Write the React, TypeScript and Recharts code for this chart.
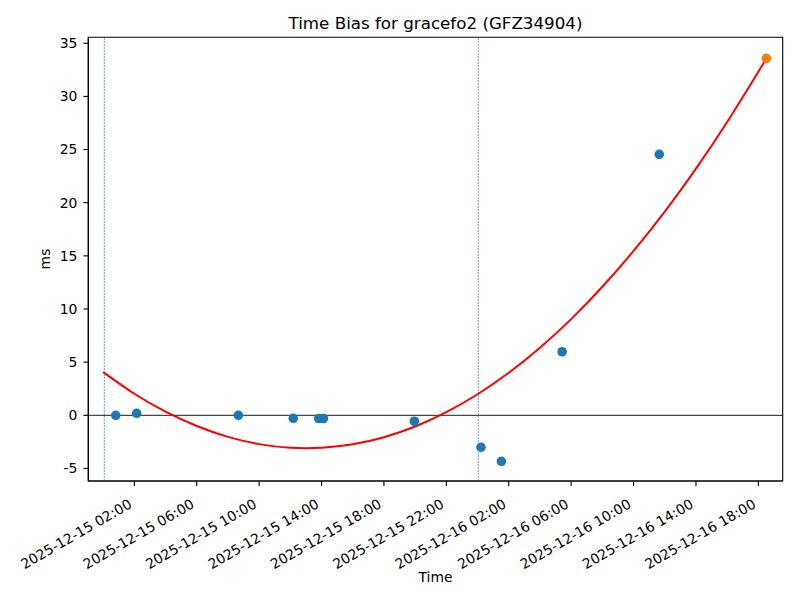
import React from "react";
import {
  ComposedChart,
  XAxis,
  YAxis,
  Scatter,
  Line,
  ReferenceLine,
  ReferenceArea,
} from "recharts";

// hours since 2025-12-15 00:00
const measuredTimes = [0.81, 2.15, 8.67, 12.19, 13.82, 14.12, 19.95, 24.22, 25.53, 29.42, 35.65];
const measuredBias = [0.0, 0.19, 0.0, -0.28, -0.3, -0.3, -0.56, -3.01, -4.33, 5.98, 24.55];

const predictedTime = [42.51];
const predictedBias = [33.58];

const fitTimes = [0, 2, 4, 6, 8, 10, 12, 14, 16, 18, 20, 22, 24, 26, 28, 30, 32, 34, 36, 38, 40, 42, 42.51];
const fitBias = [4.07, 2.03, 0.34, -1.01, -2.03, -2.71, -3.06, -3.06, -2.73, -2.06, -1.05, 0.3, 1.98, 4.0, 6.36, 9.05, 12.09, 15.46, 19.16, 23.21, 27.6, 32.32, 33.57];

const windowLines = [0.077, 24.05];

const xTicks = [2, 6, 10, 14, 18, 22, 26, 30, 34, 38, 42];
const xTickLabels = [
  "2025-12-15 02:00",
  "2025-12-15 06:00",
  "2025-12-15 10:00",
  "2025-12-15 14:00",
  "2025-12-15 18:00",
  "2025-12-15 22:00",
  "2025-12-16 02:00",
  "2025-12-16 06:00",
  "2025-12-16 10:00",
  "2025-12-16 14:00",
  "2025-12-16 18:00",
];
const yTicks = [-5, 0, 5, 10, 15, 20, 25, 30, 35];

const title = "Time Bias for gracefo2 (GFZ34904)";

const measured = measuredTimes.map((t, i) => ({ t, v: measuredBias[i] }));
const predicted = predictedTime.map((t, i) => ({ t, v: predictedBias[i] }));
const fit = fitTimes.map((t, i) => ({ t, v: fitBias[i] }));

const FONT = "DejaVu Sans";
const X_DOMAIN: [number, number] = [-0.95, 43.56];
const Y_DOMAIN: [number, number] = [-6.18, 35.56];

const XTick = (props: any) => {
  const { x, y, payload } = props;
  const idx = xTicks.indexOf(payload.value);
  const label = idx >= 0 ? xTickLabels[idx] : "";
  const ax = x - 1.5;
  const ay = y + 21;
  return (
    <text
      x={ax}
      y={ay}
      textAnchor="end"
      fontFamily={FONT}
      fontSize={13.9}
      fill="#000"
      transform={`rotate(-30, ${ax}, ${ay})`}
    >
      {label}
    </text>
  );
};

const dot = (color: string) => (props: any) =>
  <circle cx={props.cx} cy={props.cy} r={4.8} fill={color} />;

export default function App() {
  return (
    <div style={{ position: "absolute", left: 0, top: 0, width: 800, height: 600, background: "#fff" }}>
      <ComposedChart
        width={800}
        height={600}
        margin={{ top: 37.3, right: 17.3, left: 0, bottom: 0 }}
      >
        <XAxis
          type="number"
          dataKey="t"
          domain={X_DOMAIN}
          allowDataOverflow
          ticks={xTicks}
          interval={0}
          height={119}
          tickSize={4.9}
          tickMargin={0}
          tick={<XTick />}
          axisLine={{ stroke: "#000", strokeWidth: 1.1 }}
          tickLine={{ stroke: "#000", strokeWidth: 1.1 }}
        />
        <YAxis
          type="number"
          dataKey="v"
          domain={Y_DOMAIN}
          allowDataOverflow
          ticks={yTicks}
          interval={0}
          width={88.3}
          tickSize={4.9}
          tickMargin={6}
          tick={{ fontFamily: FONT, fontSize: 13.9, fill: "#000" }}
          axisLine={{ stroke: "#000", strokeWidth: 1.1 }}
          tickLine={{ stroke: "#000", strokeWidth: 1.1 }}
        />
        <ReferenceArea
          x1={X_DOMAIN[0]}
          x2={X_DOMAIN[1]}
          y1={Y_DOMAIN[0]}
          y2={Y_DOMAIN[1]}
          fill="none"
          stroke="#000"
          strokeWidth={1.1}
          fillOpacity={0}
        />
        <ReferenceLine y={0} stroke="#000" strokeWidth={0.9} />
        {windowLines.map((x) => (
          <ReferenceLine key={x} x={x} stroke="#1f77b4" strokeWidth={0.7} strokeDasharray="2 1" />
        ))}
        <Line
          data={fit}
          dataKey="v"
          type="natural"
          dot={false}
          stroke="#ff0000"
          strokeWidth={2}
          isAnimationActive={false}
        />
        <Scatter data={measured} dataKey="v" fill="#1f77b4" shape={dot("#1f77b4")} isAnimationActive={false} />
        <Scatter data={predicted} dataKey="v" fill="#ff7f0e" shape={dot("#ff7f0e")} isAnimationActive={false} />
        <text x={435.5} y={28.5} textAnchor="middle" fontFamily={FONT} fontSize={16.7} fill="#000">
          {title}
        </text>
        <text x={435.5} y={582} textAnchor="middle" fontFamily={FONT} fontSize={13.9} fill="#000">
          Time
        </text>
        <text
          x={50}
          y={259}
          textAnchor="middle"
          fontFamily={FONT}
          fontSize={13.9}
          fill="#000"
          transform="rotate(-90, 50, 259)"
        >
          ms
        </text>
      </ComposedChart>
    </div>
  );
}
